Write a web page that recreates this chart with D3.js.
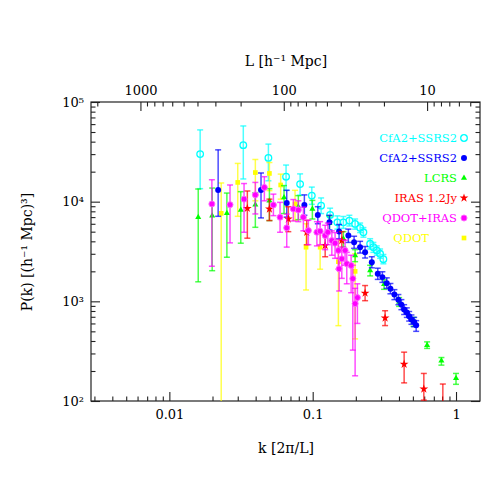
<!DOCTYPE html>
<html>
<head>
<meta charset="utf-8">
<script src="https://cdn.jsdelivr.net/npm/d3@7"></script>
<style>
body { margin: 0; background: #fff; }
text { font-family: "DejaVu Serif", serif; fill: #000; }
</style>
</head>
<body>
<svg id="chart" width="491" height="491"></svg>
<script>
// CfA2+SSRS2 (open circles): k, P, lower / upper end of the error bar
var cfaOpenK  = [0.0164, 0.0328, 0.0491, 0.0652, 0.0817, 0.0986, 0.1145, 0.1323, 0.1487, 0.1637, 0.1803, 0.1977, 0.2142, 0.2259, 0.2517, 0.2652, 0.280, 0.2953, 0.3113];
var cfaOpenP  = [30000, 36900, 27500, 17800, 15000, 11500, 9120, 7360, 6200, 6200, 6450, 5980, 5460, 4930, 3780, 3490, 3240, 3000, 2650];
var cfaOpenHi = [52500, 57500, 37800, 23300, 19000, 14000, 10900, 8600, 7200, 7100, 7300, 6700, 6100, 5500, 4250, 3900, 3600, 3350, 2950];
var cfaOpenLo = [13500, 16900, 16200, 13000, 11600, 9400, 7600, 6300, 5300, 5400, 5700, 5300, 4900, 4400, 3350, 3100, 2900, 2700, 2380];

// CfA2+SSRS2 (filled circles)
var cfaFillK  = [0.0219, 0.0436, 0.0659, 0.0875, 0.1086, 0.1309, 0.1528, 0.1774, 0.1945, 0.2142, 0.2321, 0.2585, 0.2845, 0.3064, 0.3288, 0.3486, 0.3716, 0.3963, 0.4159, 0.4345, 0.4536, 0.4711, 0.4886, 0.5105, 0.5272];
var cfaFillP  = [13100, 13100, 9700, 9270, 7360, 6210, 5010, 4570, 3920, 3490, 3110, 2470, 1890, 1750, 1520, 1340, 1170, 1040, 927, 826, 771, 708, 656, 621, 575];
var cfaFillHi = [33100, 19400, 13000, 11700, 8900, 7300, 5900, 5300, 4500, 4000, 3550, 2800, 2150, 1980, 1720, 1510, 1310, 1170, 1040, 925, 860, 790, 730, 690, 640];
var cfaFillLo = [7130, 6870, 7000, 7300, 6000, 5200, 4250, 3900, 3400, 3050, 2720, 2170, 1660, 1550, 1350, 1190, 1040, 925, 825, 738, 690, 634, 588, 557, 500];

// LCRS
var lcrsK  = [0.0159, 0.0199, 0.0252, 0.0315, 0.0398, 0.0499, 0.0631, 0.0794, 0.0995, 0.1309, 0.1637, 0.1977, 0.2517, 0.3148, 0.4009, 0.5047, 0.6285, 0.7907, 1.0];
var lcrsP  = [6970, 7240, 7640, 8260, 9330, 10200, 11000, 8910, 8450, 6070, 4240, 2880, 2040, 1480, 984, 621, 363, 253, 169];
var lcrsHi = [13400, 13700, 12200, 12600, 12300, 13500, 14500, 11500, 10300, 7200, 5000, 3300, 2300, 1650, 1090, 690, 392, 273, 189];
var lcrsLo = [1570, 2030, 2770, 3830, 5530, 6460, 7600, 6600, 6700, 5000, 3500, 2500, 1800, 1320, 890, 560, 337, 229, 147];

// IRAS 1.2Jy
var irasK  = [0.0350, 0.0499, 0.0676, 0.0909, 0.1222, 0.1596, 0.2321, 0.3200, 0.4345, 0.5962, 0.8091];
var irasP  = [8570, 8450, 6710, 4930, 3630, 4070, 1210, 681, 234, 132, 85];
var irasHi = [12800, 10600, 8900, 6500, 4600, 5000, 1440, 805, 309, 189, 148];
var irasLo = [4300, 6460, 5000, 3700, 2800, 3200, 1015, 571, 152, 102, 50];

// QDOT+IRAS
var qiK  = [0.0198, 0.0265, 0.0332, 0.0398, 0.0460, 0.0532, 0.0592, 0.0659, 0.0733, 0.0794, 0.0861, 0.0933, 0.1070, 0.1127, 0.1222, 0.1275, 0.1360, 0.1433, 0.1511, 0.1530, 0.1596, 0.1683, 0.1729, 0.1854, 0.1905, 0.1977, 0.2051];
var qiP  = [9480, 9330, 10600, 11700, 13900, 9270, 6970, 5460, 8450, 8260, 6970, 5130, 4930, 5050, 4570, 4930, 4070, 3830, 3240, 2120, 2670, 3240, 2380, 2290, 1690, 948, 1090];
var qiHi = [16600, 14700, 15200, 15600, 17800, 11900, 9840, 7500, 10500, 10200, 8800, 6500, 6300, 6300, 5800, 6100, 5100, 4900, 4200, 2700, 3500, 4100, 3100, 2900, 2300, 1350, 1500];
var qiLo = [2250, 3860, 4930, 7530, 10200, 7240, 4930, 3500, 6400, 6300, 5100, 3700, 3600, 3700, 3300, 3700, 2900, 2700, 2100, 1270, 1700, 2300, 1500, 1220, 324, 179, 600];

// QDOT
var qdotK  = [0.0230, 0.0300, 0.0398, 0.0499, 0.0598, 0.0753, 0.0899, 0.1127, 0.1511, 0.1977];
var qdotP  = [7640, 15600, 19600, 19200, 14700, 9480, 3490, 3490, 2500, 2000];
var qdotHi = [15400, 24200, 26500, 24700, 18900, 13000, 6000, 5000, 4000, 3000];
var qdotLo = [10, 7130, 10200, 12900, 10600, 6500, 1300, 2100, 570, 420];

var legendNames = ["CfA2+SSRS2", "CfA2+SSRS2", "LCRS", "IRAS 1.2Jy", "QDOT+IRAS", "QDOT"];

var xTicks = [0.01, 0.1, 1];
var yTicks = [100, 1000, 10000, 100000];
var yTickLabels = ["10²", "10³", "10⁴", "10⁵"];
var lTicks = [1000, 100, 10];

var series = [
  {name: legendNames[0], k: cfaOpenK, p: cfaOpenP, lo: cfaOpenLo, hi: cfaOpenHi, color: "#00ffff", sym: "open"},
  {name: legendNames[5], k: qdotK, p: qdotP, lo: qdotLo, hi: qdotHi, color: "#ffff00", sym: "square"},
  {name: legendNames[2], k: lcrsK, p: lcrsP, lo: lcrsLo, hi: lcrsHi, color: "#00ff00", sym: "triangle"},
  {name: legendNames[1], k: cfaFillK, p: cfaFillP, lo: cfaFillLo, hi: cfaFillHi, color: "#0000ff", sym: "dot"},
  {name: legendNames[3], k: irasK, p: irasP, lo: irasLo, hi: irasHi, color: "#ff0000", sym: "star"},
  {name: legendNames[4], k: qiK, p: qiP, lo: qiLo, hi: qiHi, color: "#ff00ff", sym: "blob"}
];

var pL = 91, pR = 480, pT = 102, pB = 401;
var svg = d3.select("#chart");

var x = d3.scaleLog().domain([0.00284, 1.47]).range([pL, pR]);
var y = d3.scaleLog().domain([100, 100000]).range([pB, pT]);
var xL = d3.scaleLog().domain([2 * Math.PI / 0.00284, 2 * Math.PI / 1.47]).range([pL, pR]);

function minorsOf(scale, lo, hi) {
  var out = [];
  for (var d = lo; d <= hi; d *= 10)
    for (var m = 2; m <= 9; m++) out.push(m * d);
  var dom = scale.domain().slice().sort(d3.ascending);
  return out.filter(function(v) { return v >= dom[0] && v <= dom[1]; });
}

function styleAxis(g) {
  g.select(".domain").remove();
  g.selectAll("line").attr("stroke", "#222").attr("stroke-width", 1.1);
  g.selectAll("text").style("font-family", "DejaVu Serif").style("font-size", "13px").attr("fill", "#000");
}

// bottom
svg.append("g").attr("transform", "translate(0," + pB + ")")
  .call(d3.axisBottom(x).tickValues(xTicks).tickSize(-9).tickPadding(9).tickFormat(d3.format("~g")))
  .call(styleAxis);
svg.append("g").attr("transform", "translate(0," + pB + ")")
  .call(d3.axisBottom(x).tickValues(minorsOf(x, 0.001, 1)).tickSize(-4.5).tickFormat(""))
  .call(styleAxis);
// top (L)
svg.append("g").attr("transform", "translate(0," + pT + ")")
  .call(d3.axisTop(xL).tickValues(lTicks).tickSize(-9).tickPadding(7).tickFormat(d3.format("d")))
  .call(styleAxis);
svg.append("g").attr("transform", "translate(0," + pT + ")")
  .call(d3.axisTop(xL).tickValues(minorsOf(xL, 1, 1000)).tickSize(-4.5).tickFormat(""))
  .call(styleAxis);
// left
svg.append("g").attr("transform", "translate(" + pL + ",0)")
  .call(d3.axisLeft(y).tickValues(yTicks).tickSize(-9).tickPadding(7)
    .tickFormat(function(d, i) { return yTickLabels[i]; }))
  .call(styleAxis);
svg.append("g").attr("transform", "translate(" + pL + ",0)")
  .call(d3.axisLeft(y).tickValues(minorsOf(y, 100, 10000)).tickSize(-4.5).tickFormat(""))
  .call(styleAxis);
// right
svg.append("g").attr("transform", "translate(" + pR + ",0)")
  .call(d3.axisRight(y).tickValues(yTicks).tickSize(-9).tickFormat(""))
  .call(styleAxis);
svg.append("g").attr("transform", "translate(" + pR + ",0)")
  .call(d3.axisRight(y).tickValues(minorsOf(y, 100, 10000)).tickSize(-4.5).tickFormat(""))
  .call(styleAxis);

svg.append("rect").attr("x", pL).attr("y", pT)
  .attr("width", pR - pL).attr("height", pB - pT)
  .attr("fill", "none").attr("stroke", "#222").attr("stroke-width", 1.2);

// axis titles
svg.append("text").attr("x", 286).attr("y", 453).attr("text-anchor", "middle")
  .style("font-size", "14px").text("k [2π/L]");
svg.append("text").attr("x", 286).attr("y", 66).attr("text-anchor", "middle")
  .style("font-size", "14px").text("L [h⁻¹ Mpc]");
svg.append("text").attr("transform", "translate(32,252) rotate(-90)").attr("text-anchor", "middle")
  .style("font-size", "14px").text("P(k) [(h⁻¹ Mpc)³]");

// markers
function symbolFor(sym) {
  if (sym === "square") return d3.symbol().type(d3.symbolSquare).size(22)();
  if (sym === "triangle") return d3.symbol().type(d3.symbolTriangle).size(16)();
  if (sym === "star") return d3.symbol().type(d3.symbolStar).size(24)();
  if (sym === "open") return d3.symbol().type(d3.symbolCircle).size(34)();
  return d3.symbol().type(d3.symbolCircle).size(28)();
}
function drawMark(g, s) {
  var p = g.append("path").attr("d", symbolFor(s.sym));
  if (s.sym === "open") p.attr("fill", "none").attr("stroke", s.color).attr("stroke-width", 1.3);
  else if (s.sym === "blob") p.attr("fill", s.color).attr("stroke", "#ff66ff").attr("stroke-width", 1);
  else p.attr("fill", s.color);
}

svg.append("clipPath").attr("id", "plotclip").append("rect")
  .attr("x", pL).attr("y", pT).attr("width", pR - pL).attr("height", pB - pT);
var plot = svg.append("g").attr("clip-path", "url(#plotclip)");

series.forEach(function(s) {
  var pts = s.k.map(function(k, i) { return {k: k, p: s.p[i], lo: s.lo[i], hi: s.hi[i]}; });
  var g = plot.append("g");
  var eb = g.selectAll(".eb").data(pts).enter().append("g")
    .attr("stroke", s.color).attr("stroke-width", 1.5).attr("stroke-opacity", 0.7);
  eb.append("line").attr("x1", function(d) { return x(d.k); }).attr("x2", function(d) { return x(d.k); })
    .attr("y1", function(d) { return y(d.lo); }).attr("y2", function(d) { return y(d.hi); });
  eb.append("line").attr("x1", function(d) { return x(d.k) - 3; }).attr("x2", function(d) { return x(d.k) + 3; })
    .attr("y1", function(d) { return y(d.lo); }).attr("y2", function(d) { return y(d.lo); });
  eb.append("line").attr("x1", function(d) { return x(d.k) - 3; }).attr("x2", function(d) { return x(d.k) + 3; })
    .attr("y1", function(d) { return y(d.hi); }).attr("y2", function(d) { return y(d.hi); });
  g.selectAll(".mk").data(pts).enter().append("g")
    .attr("transform", function(d) { return "translate(" + x(d.k) + "," + y(d.p) + ")"; })
    .each(function() { drawMark(d3.select(this), s); });
});

// legend
var legendOrder = [
  {s: series[0], textX: 457, row: 0},
  {s: series[3], textX: 457, row: 1},
  {s: series[2], textX: 457, row: 2},
  {s: series[4], textX: 457, row: 3},
  {s: series[5], textX: 457, row: 4},
  {s: series[1], textX: 429, row: 5}
];
legendOrder.forEach(function(e) {
  var cy = 138 + e.row * 20;
  svg.append("text").attr("x", e.textX).attr("y", cy + 4).attr("text-anchor", "end")
    .attr("fill", e.s.color).style("fill", e.s.color).style("font-size", "11.5px").text(e.s.name);
  var g = svg.append("g").attr("transform", "translate(464," + cy + ")");
  drawMark(g, e.s);
});
</script>
</body>
</html>
